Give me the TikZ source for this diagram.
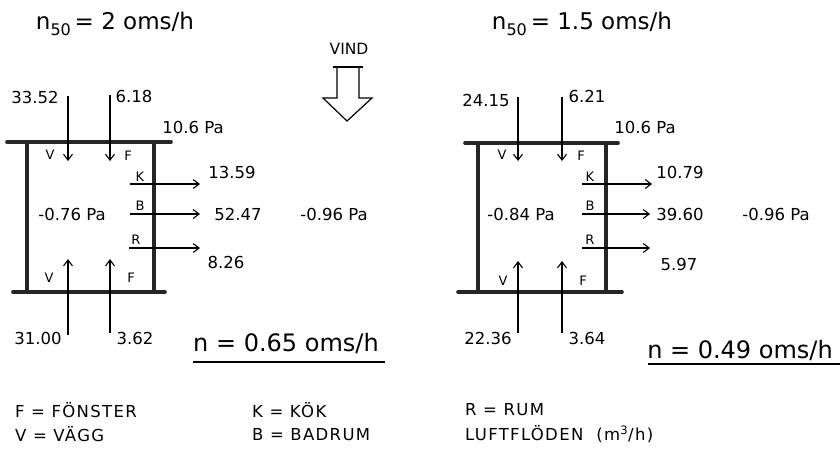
\documentclass[tikz,border=0pt]{standalone}
\usepackage{fontspec}
\setmainfont{DejaVu Sans}
\usetikzlibrary{arrows.meta}
\tikzset{
  wall/.style={line width=3.6pt, line cap=round, color=black!85},
  flow/.style={line width=1.1pt, -{Straight Barb[length=6pt,width=9pt,line width=1.1pt]}},
  num/.style={font=\fontsize{16.5}{18}\selectfont, inner sep=0pt},
  lab/.style={font=\fontsize{13}{15}\selectfont, inner sep=0pt},
  title/.style={font=\fontsize{23}{26}\selectfont, inner sep=0pt},
  result/.style={font=\fontsize{24}{27}\selectfont, inner sep=0pt},
  legend/.style={font=\fontsize{16.5}{19}\selectfont\addfontfeature{LetterSpace=8}, inner sep=0pt, anchor=west},
  hollow/.style={line width=1.2pt, line join=miter}
}
\begin{document}
\begin{tikzpicture}[x=1pt,y=-1pt]
\useasboundingbox (0,0) rectangle (840,458);
\fill[white] (0,0) rectangle (840,458);

% ---------- titles ----------
\node[title] (tA) at (115,24) {n\raisebox{-0.45ex}{\fontsize{16}{16}\selectfont 50}\,= 2 oms/h};
\node[title] (tB) at (582,24) {n\raisebox{-0.45ex}{\fontsize{16}{16}\selectfont 50}\,= 1.5 oms/h};

% ---------- wind ----------
\node[lab, font=\fontsize{15.5}{17}\selectfont] (vind) at (349,49) {VIND};
\draw[hollow] (337,67) -- (337,98) -- (323,98) -- (347,121) -- (372,98) -- (359,98) -- (359,67) -- cycle;
\draw[hollow] (333,67) -- (363,67);

% =============== LEFT PANEL ===============
\coordinate (A1) at (7,142);  \coordinate (A2) at (171,142);
\coordinate (A3) at (27,142); \coordinate (A4) at (27,292);
\coordinate (A5) at (154,142); \coordinate (A6) at (154,292);
\coordinate (A7) at (13,292); \coordinate (A8) at (165,292);
\draw[wall] (A1) -- (A2);
\draw[wall] (A3) -- (A4);
\draw[wall] (A5) -- (A6);
\draw[wall] (A7) -- (A8);

\node[num] (a3352) at (35,97) {33.52};
\node[num] (a618) at (134,96) {6.18};
\node[num] (a106) at (193,127) {10.6 Pa};
\node[lab] (aV1) at (50,155) {V};
\node[lab] (aF1) at (128,156) {F};
\coordinate (aVt) at (68,96); \coordinate (aVb) at (68,161);
\coordinate (aFt) at (110,95); \coordinate (aFb) at (110,161);
\draw[flow] (aVt) -- (aVb);
\draw[flow] (aFt) -- (aFb);

\node[lab] (aK) at (140,177) {K};
\node[lab] (aB) at (140,206) {B};
\node[lab] (aR) at (136,240) {R};
\coordinate (aK1) at (130,184); \coordinate (aK2) at (200,184);
\coordinate (aB1) at (130,214); \coordinate (aB2) at (200,214);
\coordinate (aR1) at (129,248); \coordinate (aR2) at (200,248);
\draw[flow] (aK1) -- (aK2);
\draw[flow] (aB1) -- (aB2);
\draw[flow] (aR1) -- (aR2);
\node[num] (a1359) at (232,172) {13.59};
\node[num] (a5247) at (238,214) {52.47};
\node[num] (a826) at (226,262) {8.26};
\node[num] (ain) at (72,214) {-0.76 Pa};
\node[num] (aout) at (334,214) {-0.96 Pa};

\node[lab] (aV2) at (49,278) {V};
\node[lab] (aF2) at (131,278) {F};
\coordinate (aVu) at (68,335); \coordinate (aVo) at (68,259);
\coordinate (aFu) at (110,333); \coordinate (aFo) at (110,259);
\draw[flow] (aVu) -- (aVo);
\draw[flow] (aFu) -- (aFo);
\node[num] (a3100) at (38,338) {31.00};
\node[num] (a362) at (135,338) {3.62};

\node[result] (aRes) at (286,343) {n = 0.65 oms/h};
\coordinate (aU1) at (193,362); \coordinate (aU2) at (385,362);
\draw[line width=1.3pt] (aU1) -- (aU2);

% =============== RIGHT PANEL ===============
\coordinate (B1) at (465,143);  \coordinate (B2) at (618,143);
\coordinate (B3) at (478,143); \coordinate (B4) at (478,292);
\coordinate (B5) at (606,143); \coordinate (B6) at (606,292);
\coordinate (B7) at (458,292); \coordinate (B8) at (622,292);
\draw[wall] (B1) -- (B2);
\draw[wall] (B3) -- (B4);
\draw[wall] (B5) -- (B6);
\draw[wall] (B7) -- (B8);

\node[num] (b2415) at (486,100) {24.15};
\node[num] (b621) at (587,96) {6.21};
\node[num] (b106) at (645,127) {10.6 Pa};
\node[lab] (bV1) at (502,155) {V};
\node[lab] (bF1) at (581,156) {F};
\coordinate (bVt) at (518,97); \coordinate (bVb) at (518,161);
\coordinate (bFt) at (562,97); \coordinate (bFb) at (562,161);
\draw[flow] (bVt) -- (bVb);
\draw[flow] (bFt) -- (bFb);

\node[lab] (bK) at (590,177) {K};
\node[lab] (bB) at (590,206) {B};
\node[lab] (bR) at (590,240) {R};
\coordinate (bK1) at (582,184); \coordinate (bK2) at (652,184);
\coordinate (bB1) at (582,214); \coordinate (bB2) at (650,214);
\coordinate (bR1) at (582,248); \coordinate (bR2) at (650,248);
\draw[flow] (bK1) -- (bK2);
\draw[flow] (bB1) -- (bB2);
\draw[flow] (bR1) -- (bR2);
\node[num] (b1079) at (680,172) {10.79};
\node[num] (b3960) at (680,214) {39.60};
\node[num] (b597) at (679,264) {5.97};
\node[num] (bin) at (521,214) {-0.84 Pa};
\node[num] (bout) at (776,214) {-0.96 Pa};

\node[lab] (bV2) at (503,281) {V};
\node[lab] (bF2) at (583,281) {F};
\coordinate (bVu) at (518,333); \coordinate (bVo) at (518,261);
\coordinate (bFu) at (562,333); \coordinate (bFo) at (562,261);
\draw[flow] (bVu) -- (bVo);
\draw[flow] (bFu) -- (bFo);
\node[num] (b2236) at (488,338) {22.36};
\node[num] (b364) at (587,338) {3.64};

\node[result] (bRes) at (740,350) {n = 0.49 oms/h};
\coordinate (bU1) at (648,364); \coordinate (bU2) at (840,364);
\draw[line width=1.3pt] (bU1) -- (bU2);

% =============== LEGEND ===============
\node[legend] (lgF) at (15,410) {F = FÖNSTER};
\node[legend] (lgV) at (15,434) {V = VÄGG};
\node[legend] (lgK) at (252,410) {K = KÖK};
\node[legend] (lgB) at (252,435) {B = BADRUM};
\node[legend] (lgR) at (465,410) {R = RUM};
\node[legend] (lgL) at (465,434) {LUFTFLÖDEN\ \ (m\textsuperscript{3}/h)};
\end{tikzpicture}
\end{document}
